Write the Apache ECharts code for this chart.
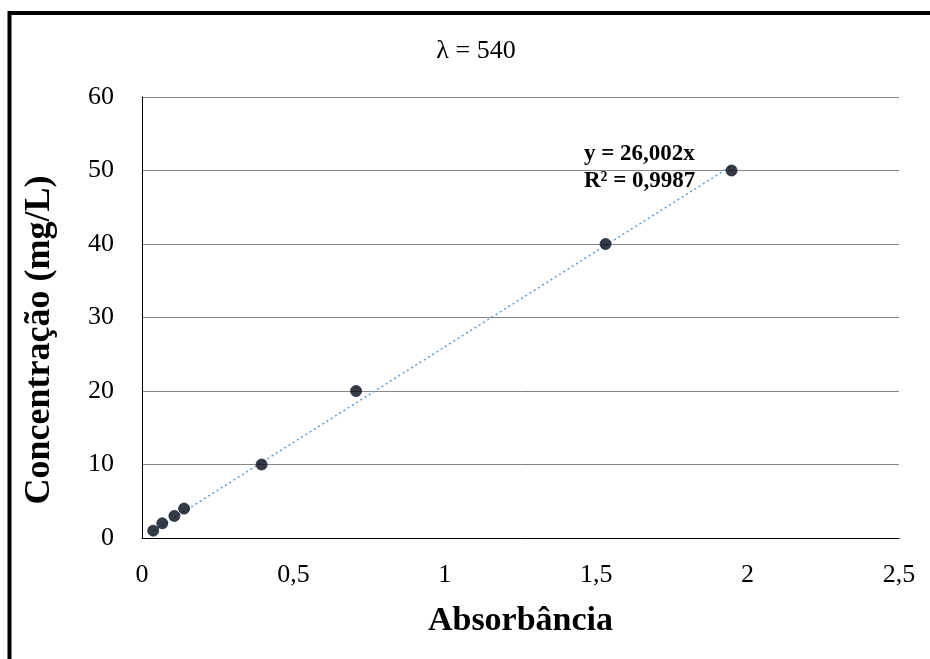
<!DOCTYPE html>
<html>
<head>
<meta charset="utf-8">
<script src="https://cdn.jsdelivr.net/npm/echarts@6/dist/echarts.min.js"></script>
<style>
html,body{margin:0;padding:0;background:#fff;}
#chart{width:930px;height:659px;}
</style>
</head>
<body>
<div id="chart"></div>
<script>
// Data
const absorbance = [0.037, 0.067, 0.107, 0.139, 0.395, 0.707, 1.531, 1.947];
const concentration = [1, 2, 3, 4, 10, 20, 40, 50];
const slope = 26.002;
const r2Text = 'R² = 0,9987';
const eqText = 'y = 26,002x';
const titleText = 'λ = 540';
const xTitle = 'Absorbância';
const yTitle = 'Concentração (mg/L)';
const xTicks = [0, 0.5, 1, 1.5, 2, 2.5];
const yTicks = [0, 10, 20, 30, 40, 50, 60];

const points = absorbance.map((x, i) => [x, concentration[i]]);
const xMin = Math.min(...absorbance), xMax = Math.max(...absorbance);
const trend = [[xMin, slope * xMin], [xMax, slope * xMax]];

const fmt = v => String(v).replace('.', ',');
const serif = 'Liberation Serif';

const chart = echarts.init(document.getElementById('chart'), null, {renderer: 'canvas'});
chart.setOption({
  backgroundColor: '#fff',
  animation: false,
  grid: {left: 142, top: 97, right: 31, bottom: 121},
  xAxis: [{
    type: 'value', min: 0, max: 2.5, interval: 0.5,
    name: xTitle, nameLocation: 'middle', nameGap: 66,
    nameTextStyle: {fontFamily: serif, fontSize: 34, fontWeight: 'bold', color: '#000'},
    axisLine: {show: true, lineStyle: {color: '#a6a6a6', width: 1}},
    axisTick: {show: false},
    splitLine: {show: false},
    axisLabel: {fontFamily: serif, fontSize: 26, color: '#000', margin: 24, formatter: fmt}
  }, {
    type: 'value', min: 0, max: 2.5, position: 'top',
    axisLine: {show: true, lineStyle: {color: '#000', width: 1}},
    axisTick: {show: false}, axisLabel: {show: false}, splitLine: {show: false}
  }],
  yAxis: [{
    type: 'value', min: 0, max: 60, interval: 10,
    axisLine: {show: true, lineStyle: {color: '#a6a6a6', width: 1}},
    axisTick: {show: false},
    splitLine: {show: true, lineStyle: {color: '#868686', width: 1}},
    axisLabel: {fontFamily: serif, fontSize: 26, color: '#000', margin: 28, formatter: fmt}
  }, {
    type: 'value', min: 0, max: 60, position: 'right',
    axisLine: {show: true, lineStyle: {color: '#000', width: 1}},
    axisTick: {show: false}, axisLabel: {show: false}, splitLine: {show: false}
  }],
  series: [{
    type: 'line', data: trend, symbol: 'none', silent: true,
    lineStyle: {color: '#5b9bd5', width: 1.5, type: [2, 3]}, z: 2
  }, {
    type: 'scatter', data: points, symbol: 'circle', symbolSize: 11,
    itemStyle: {color: '#050a14', borderColor: '#142844', borderWidth: 1}, z: 3
  }],
  graphic: [{
    type: 'rect', shape: {x: 9.5, y: 13, width: 1000, height: 1000},
    style: {fill: 'none', stroke: '#000', lineWidth: 4}, silent: true
  }, {
    type: 'text', x: 476, y: 51,
    style: {text: titleText, font: 'normal 26px "Liberation Serif"', fill: '#000', align: 'center', verticalAlign: 'middle'}
  }, {
    type: 'text', x: 40, y: 340, rotation: Math.PI / 2,
    style: {text: yTitle, font: 'bold 36px "Liberation Serif"', fill: '#000', align: 'center', verticalAlign: 'middle'}
  }, {
    type: 'text', x: 584, y: 154,
    style: {text: eqText, font: 'bold 23px "Liberation Serif"', fill: '#000', verticalAlign: 'middle'}
  }, {
    type: 'text', x: 584, y: 181,
    style: {text: r2Text, font: 'bold 23px "Liberation Serif"', fill: '#000', verticalAlign: 'middle'}
  }]
});
</script>
</body>
</html>
